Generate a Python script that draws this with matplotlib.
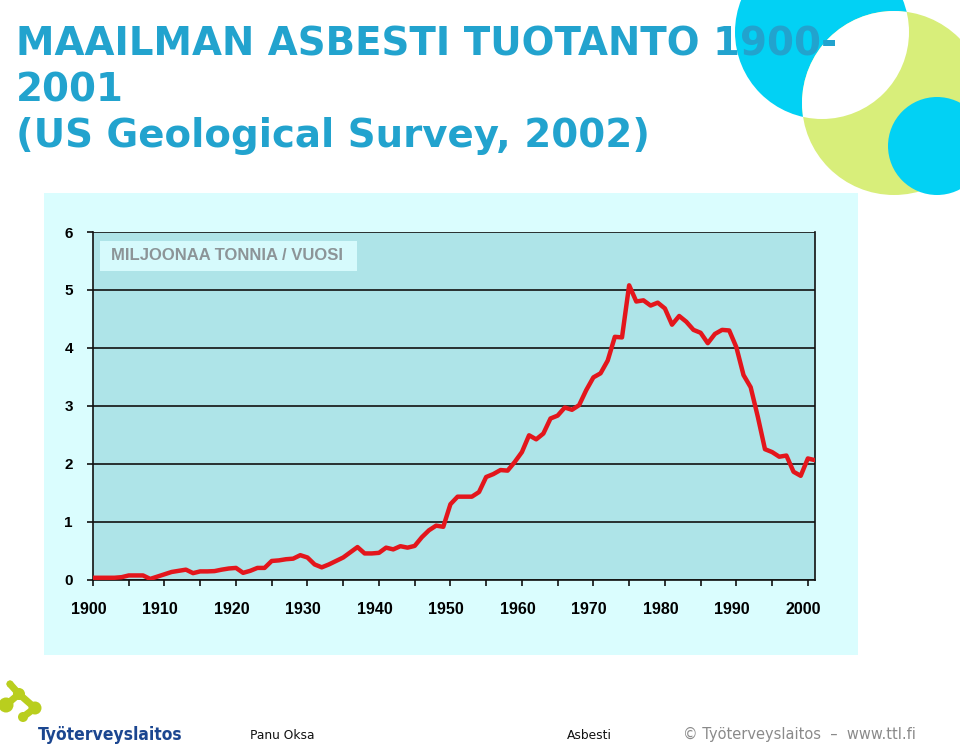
import numpy as np
import matplotlib
matplotlib.use("Agg")
import matplotlib.pyplot as plt
from matplotlib.patches import Circle, Rectangle
import matplotlib.transforms as mtransforms

# ---------------- data ----------------
years = list(range(1900, 2002))
production = [
    0.03, 0.03, 0.03, 0.03, 0.04, 0.07, 0.07, 0.07, 0.01, 0.05,   # 1900-1909
    0.09, 0.13, 0.15, 0.17, 0.11, 0.14, 0.14, 0.145, 0.17, 0.19,  # 1910-1919
    0.20, 0.115, 0.15, 0.20, 0.20, 0.32, 0.33, 0.35, 0.36, 0.42,  # 1920-1929
    0.38, 0.26, 0.21, 0.26, 0.32, 0.38, 0.47, 0.56, 0.45, 0.45,   # 1930-1939
    0.46, 0.55, 0.52, 0.575, 0.55, 0.58, 0.73, 0.85, 0.93, 0.91,  # 1940-1949
    1.30, 1.43, 1.43, 1.43, 1.51, 1.77, 1.82, 1.89, 1.88, 2.03,   # 1950-1959
    2.20, 2.49, 2.42, 2.52, 2.78, 2.83, 2.97, 2.93, 3.01, 3.27,   # 1960-1969
    3.49, 3.56, 3.78, 4.19, 4.18, 5.08, 4.80, 4.82, 4.73, 4.78,   # 1970-1979
    4.68, 4.40, 4.55, 4.45, 4.31, 4.26, 4.08, 4.24, 4.31, 4.30,   # 1980-1989
    4.01, 3.53, 3.32, 2.81, 2.25, 2.20, 2.12, 2.14, 1.86, 1.79,   # 1990-1999
    2.09, 2.06,                                                   # 2000-2001
]
x_tick_years = list(range(1900, 2001, 5))
x_tick_labels = ['1900', '', '1910', '', '1920', '', '1930', '', '1940', '',
                 '1950', '', '1960', '', '1970', '', '1980', '', '1990', '', '2000']
y_ticks = [0, 1, 2, 3, 4, 5, 6]
y_tick_labels = ['0', '1', '2', '3', '4', '5', '6']

title_lines = ['MAAILMAN ASBESTI TUOTANTO 1900-', '2001', '(US Geological Survey, 2002)']
unit_label = 'MILJOONAA TONNIA / VUOSI'

# ---------------- figure ----------------
W, H = 960, 748
fig = plt.figure(figsize=(W / 100, H / 100), dpi=100)
fig.patch.set_facecolor('white')

# overlay axes in pixel coordinates for decoration
bg = fig.add_axes([0, 0, 1, 1])
bg.set_xlim(0, W)
bg.set_ylim(H, 0)
bg.axis('off')
bg.set_zorder(0)

CYAN = '#02D1F4'
LIME = '#D8EE7A'

# top-right decorative circles
c1 = Circle((822, 32), 87, color=CYAN, lw=0)
c2 = Circle((894, 103), 92, color=LIME, lw=0)
bg.add_patch(c1)
bg.add_patch(c2)
lens = Circle((822, 32), 87, color='white', lw=0)
bg.add_patch(lens)
lens.set_clip_path(c2)
bg.add_patch(Circle((937, 146), 49, color=CYAN, lw=0))

# chart background
bg.add_patch(Rectangle((44, 193), 814, 462, color='#DAFDFE', lw=0))

# logo
LOGO = '#B9CE1E'
pts = [(10, 684), (19, 694), (6, 705), (35, 708), (23, 717)]
for (a, b) in [(0, 1), (1, 2), (1, 3), (3, 4)]:
    bg.plot([pts[a][0], pts[b][0]], [pts[a][1], pts[b][1]], color=LOGO,
            lw=5, solid_capstyle='round')
for (px, py), r in zip(pts, [3.5, 6, 7.5, 6.5, 5]):
    bg.add_patch(Circle((px, py), r, color=LOGO, lw=0))

# ---------------- main chart ----------------
ax = fig.add_axes([93 / W, 1 - 579.5 / H, 722 / W, 347.5 / H])
ax.set_zorder(1)
ax.set_facecolor('#AEE4E8')
ax.plot(years, production, color='#E3161C', lw=3.2, zorder=3)
ax.set_xlim(1900, 2001)
ax.set_ylim(0, 6)

ax.set_yticks(y_ticks)
ax.set_yticklabels(y_tick_labels, fontfamily='Liberation Sans',
                   fontweight='bold', fontsize=11)
ax.set_xticks(x_tick_years)
ax.set_xticklabels(x_tick_labels, fontfamily='Liberation Sans',
                   fontweight='bold', fontsize=11.5)
ax.tick_params(axis='both', direction='out', length=4.5, width=1.2,
               color='#111111')
ax.tick_params(axis='x', pad=12)
ax.tick_params(axis='y', pad=10)
shift = mtransforms.ScaledTranslation(-4.5 / 100, 0, fig.dpi_scale_trans)
for lab in ax.get_xticklabels():
    lab.set_transform(lab.get_transform() + shift)

ax.yaxis.grid(True, color='#111111', lw=1.2)
ax.set_axisbelow(True)
for s in ['left', 'right', 'bottom']:
    ax.spines[s].set_color('#111111')
    ax.spines[s].set_linewidth(1.2)
ax.spines['top'].set_visible(False)

# unit label box
ax.add_patch(Rectangle((0.0097, 0.8878), 0.356, 0.0862, transform=ax.transAxes,
                       fc='#D6FAFC', ec='none', zorder=4))
ax.text(0.0245, 0.931, unit_label, transform=ax.transAxes,
        fontfamily='Liberation Sans', fontweight='bold', fontsize=12,
        color='#8C9497', va='center', ha='left', zorder=5)

# ---------------- titles ----------------
TITLE_C = '#22A3CE'
for txt, base in zip(title_lines, [55, 101, 147]):
    fig.text(16 / W, 1 - base / H, txt, fontfamily='DejaVu Sans',
             fontweight='bold', fontsize=27.9, color=TITLE_C,
             va='baseline', ha='left', zorder=10)

# ---------------- footer ----------------
fig.text(38 / W, 1 - 740 / H, 'Työterveyslaitos', fontfamily='DejaVu Sans',
         fontstretch='condensed', fontweight='bold', fontsize=12.5,
         color='#1B4690', va='baseline', ha='left')
fig.text(250 / W, 1 - 739 / H, 'Panu Oksa', fontfamily='DejaVu Sans',
         fontsize=8.8, color='#111111', va='baseline', ha='left')
fig.text(567 / W, 1 - 739 / H, 'Asbesti', fontfamily='DejaVu Sans',
         fontsize=8.8, color='#111111', va='baseline', ha='left')
fig.text(683 / W, 1 - 739 / H, '© Työterveyslaitos  –  www.ttl.fi',
         fontfamily='DejaVu Sans', fontsize=10.5, color='#8A8A8A',
         va='baseline', ha='left')

fig.savefig('out.png', dpi=100)
